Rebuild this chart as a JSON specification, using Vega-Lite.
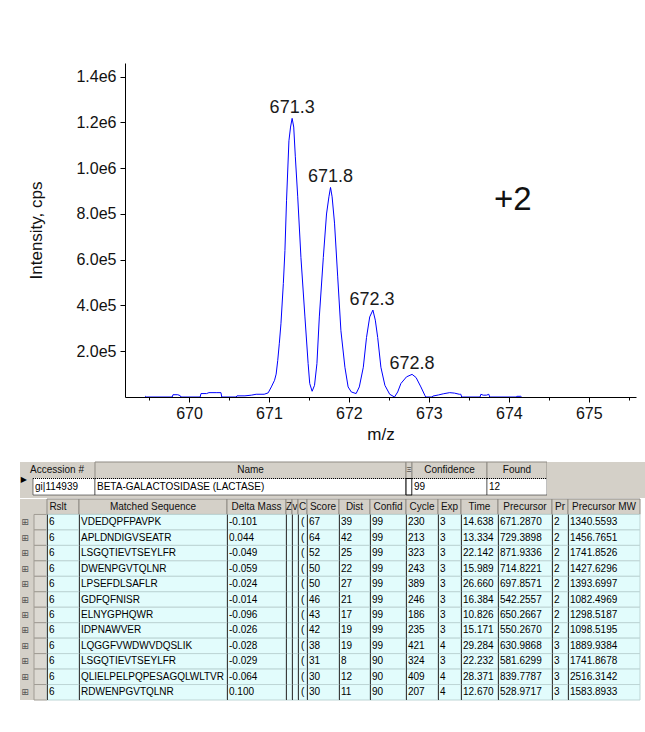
{
"$schema": "https://vega.github.io/schema/vega-lite/v6.json",
"padding": {"left": 20, "top": 63, "right": 0, "bottom": 0},
"background": "#ffffff",
"config": {"view": {"stroke": null}, "font": "Liberation Sans"},
"datasets": {
"spectrum": [
{"mz": 669.45, "I": 0}, {"mz": 669.46, "I": 3000}, {"mz": 669.47, "I": 0},
{"mz": 669.79, "I": 0}, {"mz": 669.80, "I": 10000}, {"mz": 669.86, "I": 10000}, {"mz": 669.89, "I": 6000}, {"mz": 669.90, "I": 0},
{"mz": 670.14, "I": 0}, {"mz": 670.15, "I": 15000}, {"mz": 670.22, "I": 15000}, {"mz": 670.25, "I": 19000}, {"mz": 670.34, "I": 19000}, {"mz": 670.40, "I": 19000}, {"mz": 670.41, "I": 0},
{"mz": 670.59, "I": 0}, {"mz": 670.60, "I": 5000}, {"mz": 670.70, "I": 5000}, {"mz": 670.78, "I": 8000}, {"mz": 670.84, "I": 12000}, {"mz": 670.94, "I": 12000},
{"mz": 670.99, "I": 18000}, {"mz": 671.03, "I": 44000}, {"mz": 671.07, "I": 73000}, {"mz": 671.09, "I": 100000}, {"mz": 671.11, "I": 160000}, {"mz": 671.13, "I": 235000},
{"mz": 671.15, "I": 320000}, {"mz": 671.18, "I": 496000}, {"mz": 671.20, "I": 640000}, {"mz": 671.22, "I": 860000}, {"mz": 671.25, "I": 1120000}, {"mz": 671.27, "I": 1180000},
{"mz": 671.29, "I": 1218000}, {"mz": 671.31, "I": 1180000}, {"mz": 671.33, "I": 1050000}, {"mz": 671.36, "I": 875000}, {"mz": 671.40, "I": 610000}, {"mz": 671.45, "I": 350000},
{"mz": 671.49, "I": 146000}, {"mz": 671.51, "I": 59000}, {"mz": 671.54, "I": 25000}, {"mz": 671.57, "I": 51000}, {"mz": 671.60, "I": 146000}, {"mz": 671.63, "I": 350000},
{"mz": 671.68, "I": 610000}, {"mz": 671.72, "I": 800000}, {"mz": 671.75, "I": 875000}, {"mz": 671.77, "I": 916000}, {"mz": 671.79, "I": 875000}, {"mz": 671.82, "I": 760000},
{"mz": 671.86, "I": 525000}, {"mz": 671.90, "I": 290000}, {"mz": 671.95, "I": 130000}, {"mz": 671.99, "I": 44000}, {"mz": 672.03, "I": 22000}, {"mz": 672.09, "I": 15000},
{"mz": 672.13, "I": 44000}, {"mz": 672.18, "I": 130000}, {"mz": 672.22, "I": 260000}, {"mz": 672.26, "I": 350000}, {"mz": 672.30, "I": 380000}, {"mz": 672.33, "I": 336000},
{"mz": 672.36, "I": 260000}, {"mz": 672.40, "I": 130000}, {"mz": 672.45, "I": 51000}, {"mz": 672.51, "I": 12000}, {"mz": 672.57, "I": 0}, {"mz": 672.61, "I": 22000},
{"mz": 672.65, "I": 59000}, {"mz": 672.72, "I": 88000}, {"mz": 672.79, "I": 99000}, {"mz": 672.84, "I": 85000}, {"mz": 672.90, "I": 44000}, {"mz": 672.95, "I": 7000}, {"mz": 672.96, "I": 0},
{"mz": 673.04, "I": 0}, {"mz": 673.05, "I": 4000}, {"mz": 673.12, "I": 9000}, {"mz": 673.18, "I": 14000}, {"mz": 673.26, "I": 19000}, {"mz": 673.32, "I": 17000}, {"mz": 673.38, "I": 12000}, {"mz": 673.40, "I": 12000}, {"mz": 673.41, "I": 0},
{"mz": 673.64, "I": 0}, {"mz": 673.65, "I": 12000}, {"mz": 673.68, "I": 8000}, {"mz": 673.72, "I": 8000}, {"mz": 673.75, "I": 12000}, {"mz": 673.76, "I": 0},
{"mz": 674.09, "I": 0}, {"mz": 674.10, "I": 3000}, {"mz": 674.15, "I": 3000}, {"mz": 674.16, "I": 0}
],
"peaks": [
{"mz": 671.29, "I": 1218000, "label": "671.3"},
{"mz": 671.77, "I": 916000, "label": "671.8"},
{"mz": 672.29, "I": 380000, "label": "672.3"},
{"mz": 672.79, "I": 99000, "label": "672.8"}
],
"charge": [{"mz": 674.05, "I": 817000, "label": "+2"}],
"prot": [{"i": 1, "sel": "▶", "acc": "gi|114939", "name": "BETA-GALACTOSIDASE (LACTASE)", "conf": "99", "found": "12"}],
"pep": [
{"i": 1, "rslt": "6", "seq": "VDEDQPFPAVPK", "dm": "-0.101", "c": "(", "score": "67", "dist": "39", "confid": "99", "cycle": "230", "exp": "3", "time": "14.638", "prec": "671.2870", "pr": "2", "mw": "1340.5593"},
{"i": 2, "rslt": "6", "seq": "APLDNDIGVSEATR", "dm": "0.044", "c": "(", "score": "64", "dist": "42", "confid": "99", "cycle": "213", "exp": "3", "time": "13.334", "prec": "729.3898", "pr": "2", "mw": "1456.7651"},
{"i": 3, "rslt": "6", "seq": "LSGQTIEVTSEYLFR", "dm": "-0.049", "c": "(", "score": "52", "dist": "25", "confid": "99", "cycle": "323", "exp": "3", "time": "22.142", "prec": "871.9336", "pr": "2", "mw": "1741.8526"},
{"i": 4, "rslt": "6", "seq": "DWENPGVTQLNR", "dm": "-0.059", "c": "(", "score": "50", "dist": "22", "confid": "99", "cycle": "243", "exp": "3", "time": "15.989", "prec": "714.8221", "pr": "2", "mw": "1427.6296"},
{"i": 5, "rslt": "6", "seq": "LPSEFDLSAFLR", "dm": "-0.024", "c": "(", "score": "50", "dist": "27", "confid": "99", "cycle": "389", "exp": "3", "time": "26.660", "prec": "697.8571", "pr": "2", "mw": "1393.6997"},
{"i": 6, "rslt": "6", "seq": "GDFQFNISR", "dm": "-0.014", "c": "(", "score": "46", "dist": "21", "confid": "99", "cycle": "246", "exp": "3", "time": "16.384", "prec": "542.2557", "pr": "2", "mw": "1082.4969"},
{"i": 7, "rslt": "6", "seq": "ELNYGPHQWR", "dm": "-0.096", "c": "(", "score": "43", "dist": "17", "confid": "99", "cycle": "186", "exp": "3", "time": "10.826", "prec": "650.2667", "pr": "2", "mw": "1298.5187"},
{"i": 8, "rslt": "6", "seq": "IDPNAWVER", "dm": "-0.026", "c": "(", "score": "42", "dist": "19", "confid": "99", "cycle": "235", "exp": "3", "time": "15.171", "prec": "550.2670", "pr": "2", "mw": "1098.5195"},
{"i": 9, "rslt": "6", "seq": "LQGGFVWDWVDQSLIK", "dm": "-0.028", "c": "(", "score": "38", "dist": "19", "confid": "99", "cycle": "421", "exp": "4", "time": "29.284", "prec": "630.9868", "pr": "3", "mw": "1889.9384"},
{"i": 10, "rslt": "6", "seq": "LSGQTIEVTSEYLFR", "dm": "-0.029", "c": "(", "score": "31", "dist": "8", "confid": "90", "cycle": "324", "exp": "3", "time": "22.232", "prec": "581.6299", "pr": "3", "mw": "1741.8678"},
{"i": 11, "rslt": "6", "seq": "QLIELPELPQPESAGQLWLTVR", "dm": "-0.064", "c": "(", "score": "30", "dist": "12", "confid": "90", "cycle": "409", "exp": "4", "time": "28.371", "prec": "839.7787", "pr": "3", "mw": "2516.3142"},
{"i": 12, "rslt": "6", "seq": "RDWENPGVTQLNR", "dm": "0.100", "c": "(", "score": "30", "dist": "11", "confid": "90", "cycle": "207", "exp": "4", "time": "12.670", "prec": "528.9717", "pr": "3", "mw": "1583.8933"}
]
},
"spacing": 19,
"vconcat": [
{"spacing": 0, "hconcat": [
  {"width": 7, "height": 10, "data": {"values": []}, "mark": "point"},
  {"width": 511, "height": 334,
   "layer": [
    {"data": {"name": "spectrum"},
     "mark": {"type": "line", "color": "#0000ff", "strokeWidth": 1},
     "encoding": {
      "x": {"field": "mz", "type": "quantitative", "scale": {"domain": [669.2, 675.59], "nice": false, "zero": false},
        "axis": {"title": "m/z", "values": [669.5, 670, 670.5, 671, 671.5, 672, 672.5, 673, 673.5, 674, 674.5, 675, 675.5],
          "labelExpr": "datum.value % 1 === 0 ? format(datum.value, 'd') : ''",
          "tickSize": {"condition": {"test": "datum.value % 1 === 0", "value": 5}, "value": 3},
          "grid": false, "domainColor": "#000000", "tickColor": "#000000", "labelColor": "#111111", "titleColor": "#111111",
          "labelFontSize": 16, "titleFontSize": 17, "titleFontWeight": "normal", "labelPadding": 3, "titlePadding": 5,
          "labelOverlap": false, "labelFlush": false, "zindex": 1}},
      "y": {"field": "I", "type": "quantitative", "scale": {"domain": [0, 1460000], "nice": false},
        "axis": {"title": "Intensity, cps", "values": [200000, 400000, 600000, 800000, 1000000, 1200000, 1400000],
          "labelExpr": "datum.value >= 1000000 ? format(datum.value / 1000000, '.1f') + 'e6' : format(datum.value / 100000, '.1f') + 'e5'",
          "tickSize": 5,
          "grid": false, "domainColor": "#000000", "tickColor": "#000000", "labelColor": "#111111", "titleColor": "#111111",
          "labelFontSize": 16, "titleFontSize": 17, "titleFontWeight": "normal", "labelPadding": 4, "titlePadding": 30,
          "labelOverlap": false, "labelFlush": false, "zindex": 1}}
     }},
    {"data": {"name": "peaks"},
     "mark": {"type": "text", "fontSize": 18, "baseline": "alphabetic", "dy": -5, "color": "#1a1a1a"},
     "encoding": {"x": {"field": "mz", "type": "quantitative"}, "y": {"field": "I", "type": "quantitative"}, "text": {"field": "label"}}},
    {"data": {"name": "charge"},
     "mark": {"type": "text", "fontSize": 33, "baseline": "alphabetic", "color": "#111111"},
     "encoding": {"x": {"field": "mz", "type": "quantitative"}, "y": {"field": "I", "type": "quantitative"}, "text": {"field": "label"}}}
   ]}
]},
{"spacing": 0, "vconcat": [
 {"spacing": 0, "bounds": "flush", "hconcat": [
  {"width": 13, "height": 36, "view": {"fill": "#d4d0c8"},
   "encoding": {"y": {"field": "i", "type": "ordinal", "axis": null, "scale": {"domain": [0, 1], "paddingInner": 0, "paddingOuter": 0.0909, "align": 0}},
                "x": {"datum": 0, "type": "quantitative", "axis": null, "scale": {"domain": [0, 1]}}},
   "layer": [
    {"data": {"name": "prot"}, "layer": [
      {"mark": {"type": "text", "fontSize": 8, "font": "DejaVu Sans", "color": "#000000"}, "encoding": {"x": {"datum": 0.3}, "text": {"field": "sel"}}}
    ]}
   ]},
  {"width": 62, "height": 36, "view": {"fill": "#d4d0c8"},
   "encoding": {"y": {"field": "i", "type": "ordinal", "axis": null, "scale": {"domain": [0, 1], "paddingInner": 0, "paddingOuter": 0.0909, "align": 0}},
                "x": {"datum": 0, "type": "quantitative", "axis": null, "scale": {"domain": [0, 1]}}},
   "layer": [
    {"data": {"values": [{"i": 0, "h": "Accession #"}]}, "layer": [
      {"mark": {"type": "text", "fontSize": 10, "color": "#111111", "dx": -7}, "encoding": {"x": {"datum": 0.5}, "text": {"field": "h"}}}
    ]},
    {"data": {"name": "prot"}, "layer": [
      {"mark": {"type": "rect", "fill": "#ffffff", "stroke": "#000000", "strokeWidth": 1, "strokeDash": [1, 1]}, "encoding": {"x2": {"datum": 1}}},
      {"mark": {"type": "text", "align": "left", "dx": 2, "fontSize": 10, "color": "#000000"}, "encoding": {"text": {"field": "acc"}}}
    ]}
   ]},
  {"width": 311, "height": 36, "view": {"fill": "#d4d0c8"},
   "encoding": {"y": {"field": "i", "type": "ordinal", "axis": null, "scale": {"domain": [0, 1], "paddingInner": 0, "paddingOuter": 0.0909, "align": 0}},
                "x": {"datum": 0, "type": "quantitative", "axis": null, "scale": {"domain": [0, 1]}}},
   "layer": [
    {"data": {"values": [{"i": 0, "h": "Name"}]}, "layer": [
      {"mark": {"type": "rect", "fill": "#d4d0c8", "stroke": "#8f8b84", "strokeWidth": 1}, "encoding": {"x2": {"datum": 1}}},
      {"mark": {"type": "text", "fontSize": 10, "color": "#111111"}, "encoding": {"x": {"datum": 0.5}, "text": {"field": "h"}}}
    ]},
    {"data": {"name": "prot"}, "layer": [
      {"mark": {"type": "rect", "fill": "#ffffff", "stroke": "#000000", "strokeWidth": 1, "strokeDash": [1, 1]}, "encoding": {"x2": {"datum": 1}}},
      {"mark": {"type": "text", "align": "left", "dx": 2, "fontSize": 10, "color": "#000000"}, "encoding": {"text": {"field": "name"}}}
    ]}
   ]},
  {"width": 6, "height": 36, "view": {"fill": "#d4d0c8"},
   "encoding": {"y": {"field": "i", "type": "ordinal", "axis": null, "scale": {"domain": [0, 1], "paddingInner": 0, "paddingOuter": 0.0909, "align": 0}},
                "x": {"datum": 0, "type": "quantitative", "axis": null, "scale": {"domain": [0, 1]}}},
   "layer": [
    {"data": {"values": [{"i": 0, "h": "Ξ"}]}, "layer": [
      {"mark": {"type": "rect", "fill": "#d4d0c8", "stroke": "#8f8b84", "strokeWidth": 1}, "encoding": {"x2": {"datum": 1}}},
      {"mark": {"type": "text", "fontSize": 8, "color": "#111111"}, "encoding": {"x": {"datum": 0.5}, "text": {"field": "h"}}}
    ]},
    {"data": {"name": "prot"}, "layer": [
      {"mark": {"type": "rect", "fill": "#ffffff", "stroke": "#000000", "strokeWidth": 1}, "encoding": {"x2": {"datum": 1}}}
    ]}
   ]},
  {"width": 75, "height": 36, "view": {"fill": "#d4d0c8"},
   "encoding": {"y": {"field": "i", "type": "ordinal", "axis": null, "scale": {"domain": [0, 1], "paddingInner": 0, "paddingOuter": 0.0909, "align": 0}},
                "x": {"datum": 0, "type": "quantitative", "axis": null, "scale": {"domain": [0, 1]}}},
   "layer": [
    {"data": {"values": [{"i": 0, "h": "Confidence"}]}, "layer": [
      {"mark": {"type": "rect", "fill": "#d4d0c8", "stroke": "#8f8b84", "strokeWidth": 1}, "encoding": {"x2": {"datum": 1}}},
      {"mark": {"type": "text", "fontSize": 10, "color": "#111111"}, "encoding": {"x": {"datum": 0.5}, "text": {"field": "h"}}}
    ]},
    {"data": {"name": "prot"}, "layer": [
      {"mark": {"type": "rect", "fill": "#ffffff", "stroke": "#000000", "strokeWidth": 1, "strokeDash": [1, 1]}, "encoding": {"x2": {"datum": 1}}},
      {"mark": {"type": "text", "align": "left", "dx": 2, "fontSize": 10, "color": "#000000"}, "encoding": {"text": {"field": "conf"}}}
    ]}
   ]},
  {"width": 60, "height": 36, "view": {"fill": "#d4d0c8"},
   "encoding": {"y": {"field": "i", "type": "ordinal", "axis": null, "scale": {"domain": [0, 1], "paddingInner": 0, "paddingOuter": 0.0909, "align": 0}},
                "x": {"datum": 0, "type": "quantitative", "axis": null, "scale": {"domain": [0, 1]}}},
   "layer": [
    {"data": {"values": [{"i": 0, "h": "Found"}]}, "layer": [
      {"mark": {"type": "rect", "fill": "#d4d0c8", "stroke": "#8f8b84", "strokeWidth": 1}, "encoding": {"x2": {"datum": 1}}},
      {"mark": {"type": "text", "fontSize": 10, "color": "#111111"}, "encoding": {"x": {"datum": 0.5}, "text": {"field": "h"}}}
    ]},
    {"data": {"name": "prot"}, "layer": [
      {"mark": {"type": "rect", "fill": "#ffffff", "stroke": "#000000", "strokeWidth": 1, "strokeDash": [1, 1]}, "encoding": {"x2": {"datum": 1}}},
      {"mark": {"type": "text", "align": "left", "dx": 2, "fontSize": 10, "color": "#000000"}, "encoding": {"text": {"field": "found"}}}
    ]}
   ]},
  {"width": 98, "height": 36, "view": {"fill": "#d4d0c8"}, "data": {"values": []}, "mark": "point"}
 ]},
 {"spacing": 0, "bounds": "flush", "hconcat": [
  {"width": 14, "height": 201, "view": {"fill": "#d4d0c8"},
   "encoding": {"y": {"field": "i", "type": "ordinal", "axis": null, "scale": {"domain": [0,1,2,3,4,5,6,7,8,9,10,11,12], "paddingInner": 0, "paddingOuter": 0}},
                "x": {"datum": 0, "type": "quantitative", "axis": null, "scale": {"domain": [0, 1]}}},
   "layer": [
    {"data": {"name": "pep"}, "layer": [
      {"mark": {"type": "text", "text": "⊞", "fontSize": 9, "font": "DejaVu Sans", "color": "#555555"}, "encoding": {"x": {"datum": 0.36}}}
    ]}
   ]},
  {"width": 13, "height": 201, "view": {"fill": "#d4d0c8"},
   "encoding": {"y": {"field": "i", "type": "ordinal", "axis": null, "scale": {"domain": [0,1,2,3,4,5,6,7,8,9,10,11,12], "paddingInner": 0, "paddingOuter": 0}},
                "x": {"datum": 0, "type": "quantitative", "axis": null, "scale": {"domain": [0, 1]}}},
   "layer": [
    {"data": {"values": [{"i": 0}]}, "layer": [
      {"mark": {"type": "rect", "fill": "#d4d0c8"}, "encoding": {"x2": {"datum": 1}}}
    ]},
    {"data": {"name": "pep"}, "layer": [
      {"mark": {"type": "rect", "fill": "#dcd9d2", "stroke": "#a09c94", "strokeWidth": 1}, "encoding": {"x2": {"datum": 1}}}
    ]}
   ]},
  {"width": 32, "height": 201,
   "encoding": {"y": {"field": "i", "type": "ordinal", "axis": null, "scale": {"domain": [0,1,2,3,4,5,6,7,8,9,10,11,12], "paddingInner": 0, "paddingOuter": 0}},
                "x": {"datum": 0, "type": "quantitative", "axis": null, "scale": {"domain": [0, 1]}}},
   "layer": [
    {"data": {"values": [{"i": 0, "h": "Rslt"}]}, "layer": [
      {"mark": {"type": "rect", "fill": "#d4d0c8", "stroke": "#8f8b84", "strokeWidth": 1}, "encoding": {"x2": {"datum": 1}}},
      {"mark": {"type": "text", "fontSize": 10, "color": "#111111", "dx": -5}, "encoding": {"x": {"datum": 0.5}, "text": {"field": "h"}}}
    ]},
    {"data": {"name": "pep"}, "layer": [
      {"mark": {"type": "rect", "fill": "#e2fcfc", "stroke": "#bdd5d5", "strokeWidth": 1}, "encoding": {"x2": {"datum": 1}}},
      {"mark": {"type": "rect", "fill": "#3c3c3c", "x2Offset": 1}, "encoding": {"x2": {"datum": 0}}},
      {"mark": {"type": "text", "align": "left", "dx": 2, "fontSize": 10, "color": "#000000"}, "encoding": {"text": {"field": "rslt"}}}
    ]}
   ]},
  {"width": 148, "height": 201,
   "encoding": {"y": {"field": "i", "type": "ordinal", "axis": null, "scale": {"domain": [0,1,2,3,4,5,6,7,8,9,10,11,12], "paddingInner": 0, "paddingOuter": 0}},
                "x": {"datum": 0, "type": "quantitative", "axis": null, "scale": {"domain": [0, 1]}}},
   "layer": [
    {"data": {"values": [{"i": 0, "h": "Matched Sequence"}]}, "layer": [
      {"mark": {"type": "rect", "fill": "#d4d0c8", "stroke": "#8f8b84", "strokeWidth": 1}, "encoding": {"x2": {"datum": 1}}},
      {"mark": {"type": "text", "fontSize": 10, "color": "#111111"}, "encoding": {"x": {"datum": 0.5}, "text": {"field": "h"}}}
    ]},
    {"data": {"name": "pep"}, "layer": [
      {"mark": {"type": "rect", "fill": "#e2fcfc", "stroke": "#bdd5d5", "strokeWidth": 1}, "encoding": {"x2": {"datum": 1}}},
      {"mark": {"type": "rect", "fill": "#3c3c3c", "x2Offset": 1}, "encoding": {"x2": {"datum": 0}}},
      {"mark": {"type": "text", "align": "left", "dx": 2, "fontSize": 10, "color": "#000000"}, "encoding": {"text": {"field": "seq"}}}
    ]}
   ]},
  {"width": 59, "height": 201,
   "encoding": {"y": {"field": "i", "type": "ordinal", "axis": null, "scale": {"domain": [0,1,2,3,4,5,6,7,8,9,10,11,12], "paddingInner": 0, "paddingOuter": 0}},
                "x": {"datum": 0, "type": "quantitative", "axis": null, "scale": {"domain": [0, 1]}}},
   "layer": [
    {"data": {"values": [{"i": 0, "h": "Delta Mass"}]}, "layer": [
      {"mark": {"type": "rect", "fill": "#d4d0c8", "stroke": "#8f8b84", "strokeWidth": 1}, "encoding": {"x2": {"datum": 1}}},
      {"mark": {"type": "text", "fontSize": 10, "color": "#111111"}, "encoding": {"x": {"datum": 0.5}, "text": {"field": "h"}}}
    ]},
    {"data": {"name": "pep"}, "layer": [
      {"mark": {"type": "rect", "fill": "#e2fcfc", "stroke": "#bdd5d5", "strokeWidth": 1}, "encoding": {"x2": {"datum": 1}}},
      {"mark": {"type": "rect", "fill": "#3c3c3c", "x2Offset": 1}, "encoding": {"x2": {"datum": 0}}},
      {"mark": {"type": "text", "align": "left", "dx": 2, "fontSize": 10, "color": "#000000"}, "encoding": {"text": {"field": "dm"}}}
    ]}
   ]},
  {"width": 6, "height": 201,
   "encoding": {"y": {"field": "i", "type": "ordinal", "axis": null, "scale": {"domain": [0,1,2,3,4,5,6,7,8,9,10,11,12], "paddingInner": 0, "paddingOuter": 0}},
                "x": {"datum": 0, "type": "quantitative", "axis": null, "scale": {"domain": [0, 1]}}},
   "layer": [
    {"data": {"values": [{"i": 0, "h": "Z"}]}, "layer": [
      {"mark": {"type": "rect", "fill": "#d4d0c8", "stroke": "#8f8b84", "strokeWidth": 1}, "encoding": {"x2": {"datum": 1}}},
      {"mark": {"type": "text", "fontSize": 10, "color": "#111111"}, "encoding": {"x": {"datum": 0.5}, "text": {"field": "h"}}}
    ]},
    {"data": {"name": "pep"}, "layer": [
      {"mark": {"type": "rect", "fill": "#e2fcfc", "stroke": "#bdd5d5", "strokeWidth": 1}, "encoding": {"x2": {"datum": 1}}},
      {"mark": {"type": "rect", "fill": "#3c3c3c", "x2Offset": 1}, "encoding": {"x2": {"datum": 0}}}
    ]}
   ]},
  {"width": 6, "height": 201,
   "encoding": {"y": {"field": "i", "type": "ordinal", "axis": null, "scale": {"domain": [0,1,2,3,4,5,6,7,8,9,10,11,12], "paddingInner": 0, "paddingOuter": 0}},
                "x": {"datum": 0, "type": "quantitative", "axis": null, "scale": {"domain": [0, 1]}}},
   "layer": [
    {"data": {"values": [{"i": 0, "h": "v"}]}, "layer": [
      {"mark": {"type": "rect", "fill": "#d4d0c8", "stroke": "#8f8b84", "strokeWidth": 1}, "encoding": {"x2": {"datum": 1}}},
      {"mark": {"type": "text", "fontSize": 10, "color": "#111111"}, "encoding": {"x": {"datum": 0.5}, "text": {"field": "h"}}}
    ]},
    {"data": {"name": "pep"}, "layer": [
      {"mark": {"type": "rect", "fill": "#e2fcfc", "stroke": "#bdd5d5", "strokeWidth": 1}, "encoding": {"x2": {"datum": 1}}},
      {"mark": {"type": "rect", "fill": "#3c3c3c", "x2Offset": 1}, "encoding": {"x2": {"datum": 0}}}
    ]}
   ]},
  {"width": 9, "height": 201,
   "encoding": {"y": {"field": "i", "type": "ordinal", "axis": null, "scale": {"domain": [0,1,2,3,4,5,6,7,8,9,10,11,12], "paddingInner": 0, "paddingOuter": 0}},
                "x": {"datum": 0, "type": "quantitative", "axis": null, "scale": {"domain": [0, 1]}}},
   "layer": [
    {"data": {"values": [{"i": 0, "h": "C"}]}, "layer": [
      {"mark": {"type": "rect", "fill": "#d4d0c8", "stroke": "#8f8b84", "strokeWidth": 1}, "encoding": {"x2": {"datum": 1}}},
      {"mark": {"type": "text", "fontSize": 10, "color": "#111111"}, "encoding": {"x": {"datum": 0.5}, "text": {"field": "h"}}}
    ]},
    {"data": {"name": "pep"}, "layer": [
      {"mark": {"type": "rect", "fill": "#e2fcfc", "stroke": "#bdd5d5", "strokeWidth": 1}, "encoding": {"x2": {"datum": 1}}},
      {"mark": {"type": "rect", "fill": "#3c3c3c", "x2Offset": 1}, "encoding": {"x2": {"datum": 0}}},
      {"mark": {"type": "text", "align": "left", "dx": 3, "fontSize": 10, "color": "#000000"}, "encoding": {"text": {"field": "c"}}}
    ]}
   ]},
  {"width": 32, "height": 201,
   "encoding": {"y": {"field": "i", "type": "ordinal", "axis": null, "scale": {"domain": [0,1,2,3,4,5,6,7,8,9,10,11,12], "paddingInner": 0, "paddingOuter": 0}},
                "x": {"datum": 0, "type": "quantitative", "axis": null, "scale": {"domain": [0, 1]}}},
   "layer": [
    {"data": {"values": [{"i": 0, "h": "Score"}]}, "layer": [
      {"mark": {"type": "rect", "fill": "#d4d0c8", "stroke": "#8f8b84", "strokeWidth": 1}, "encoding": {"x2": {"datum": 1}}},
      {"mark": {"type": "text", "fontSize": 10, "color": "#111111"}, "encoding": {"x": {"datum": 0.5}, "text": {"field": "h"}}}
    ]},
    {"data": {"name": "pep"}, "layer": [
      {"mark": {"type": "rect", "fill": "#e2fcfc", "stroke": "#bdd5d5", "strokeWidth": 1}, "encoding": {"x2": {"datum": 1}}},
      {"mark": {"type": "rect", "fill": "#3c3c3c", "x2Offset": 1}, "encoding": {"x2": {"datum": 0}}},
      {"mark": {"type": "text", "align": "left", "dx": 2, "fontSize": 10, "color": "#000000"}, "encoding": {"text": {"field": "score"}}}
    ]}
   ]},
  {"width": 31, "height": 201,
   "encoding": {"y": {"field": "i", "type": "ordinal", "axis": null, "scale": {"domain": [0,1,2,3,4,5,6,7,8,9,10,11,12], "paddingInner": 0, "paddingOuter": 0}},
                "x": {"datum": 0, "type": "quantitative", "axis": null, "scale": {"domain": [0, 1]}}},
   "layer": [
    {"data": {"values": [{"i": 0, "h": "Dist"}]}, "layer": [
      {"mark": {"type": "rect", "fill": "#d4d0c8", "stroke": "#8f8b84", "strokeWidth": 1}, "encoding": {"x2": {"datum": 1}}},
      {"mark": {"type": "text", "fontSize": 10, "color": "#111111"}, "encoding": {"x": {"datum": 0.5}, "text": {"field": "h"}}}
    ]},
    {"data": {"name": "pep"}, "layer": [
      {"mark": {"type": "rect", "fill": "#e2fcfc", "stroke": "#bdd5d5", "strokeWidth": 1}, "encoding": {"x2": {"datum": 1}}},
      {"mark": {"type": "rect", "fill": "#3c3c3c", "x2Offset": 1}, "encoding": {"x2": {"datum": 0}}},
      {"mark": {"type": "text", "align": "left", "dx": 2, "fontSize": 10, "color": "#000000"}, "encoding": {"text": {"field": "dist"}}}
    ]}
   ]},
  {"width": 36, "height": 201,
   "encoding": {"y": {"field": "i", "type": "ordinal", "axis": null, "scale": {"domain": [0,1,2,3,4,5,6,7,8,9,10,11,12], "paddingInner": 0, "paddingOuter": 0}},
                "x": {"datum": 0, "type": "quantitative", "axis": null, "scale": {"domain": [0, 1]}}},
   "layer": [
    {"data": {"values": [{"i": 0, "h": "Confid"}]}, "layer": [
      {"mark": {"type": "rect", "fill": "#d4d0c8", "stroke": "#8f8b84", "strokeWidth": 1}, "encoding": {"x2": {"datum": 1}}},
      {"mark": {"type": "text", "fontSize": 10, "color": "#111111"}, "encoding": {"x": {"datum": 0.5}, "text": {"field": "h"}}}
    ]},
    {"data": {"name": "pep"}, "layer": [
      {"mark": {"type": "rect", "fill": "#e2fcfc", "stroke": "#bdd5d5", "strokeWidth": 1}, "encoding": {"x2": {"datum": 1}}},
      {"mark": {"type": "rect", "fill": "#3c3c3c", "x2Offset": 1}, "encoding": {"x2": {"datum": 0}}},
      {"mark": {"type": "text", "align": "left", "dx": 2, "fontSize": 10, "color": "#000000"}, "encoding": {"text": {"field": "confid"}}}
    ]}
   ]},
  {"width": 32, "height": 201,
   "encoding": {"y": {"field": "i", "type": "ordinal", "axis": null, "scale": {"domain": [0,1,2,3,4,5,6,7,8,9,10,11,12], "paddingInner": 0, "paddingOuter": 0}},
                "x": {"datum": 0, "type": "quantitative", "axis": null, "scale": {"domain": [0, 1]}}},
   "layer": [
    {"data": {"values": [{"i": 0, "h": "Cycle"}]}, "layer": [
      {"mark": {"type": "rect", "fill": "#d4d0c8", "stroke": "#8f8b84", "strokeWidth": 1}, "encoding": {"x2": {"datum": 1}}},
      {"mark": {"type": "text", "fontSize": 10, "color": "#111111"}, "encoding": {"x": {"datum": 0.5}, "text": {"field": "h"}}}
    ]},
    {"data": {"name": "pep"}, "layer": [
      {"mark": {"type": "rect", "fill": "#e2fcfc", "stroke": "#bdd5d5", "strokeWidth": 1}, "encoding": {"x2": {"datum": 1}}},
      {"mark": {"type": "rect", "fill": "#3c3c3c", "x2Offset": 1}, "encoding": {"x2": {"datum": 0}}},
      {"mark": {"type": "text", "align": "left", "dx": 2, "fontSize": 10, "color": "#000000"}, "encoding": {"text": {"field": "cycle"}}}
    ]}
   ]},
  {"width": 23, "height": 201,
   "encoding": {"y": {"field": "i", "type": "ordinal", "axis": null, "scale": {"domain": [0,1,2,3,4,5,6,7,8,9,10,11,12], "paddingInner": 0, "paddingOuter": 0}},
                "x": {"datum": 0, "type": "quantitative", "axis": null, "scale": {"domain": [0, 1]}}},
   "layer": [
    {"data": {"values": [{"i": 0, "h": "Exp"}]}, "layer": [
      {"mark": {"type": "rect", "fill": "#d4d0c8", "stroke": "#8f8b84", "strokeWidth": 1}, "encoding": {"x2": {"datum": 1}}},
      {"mark": {"type": "text", "fontSize": 10, "color": "#111111"}, "encoding": {"x": {"datum": 0.5}, "text": {"field": "h"}}}
    ]},
    {"data": {"name": "pep"}, "layer": [
      {"mark": {"type": "rect", "fill": "#e2fcfc", "stroke": "#bdd5d5", "strokeWidth": 1}, "encoding": {"x2": {"datum": 1}}},
      {"mark": {"type": "rect", "fill": "#3c3c3c", "x2Offset": 1}, "encoding": {"x2": {"datum": 0}}},
      {"mark": {"type": "text", "align": "left", "dx": 2, "fontSize": 10, "color": "#000000"}, "encoding": {"text": {"field": "exp"}}}
    ]}
   ]},
  {"width": 37, "height": 201,
   "encoding": {"y": {"field": "i", "type": "ordinal", "axis": null, "scale": {"domain": [0,1,2,3,4,5,6,7,8,9,10,11,12], "paddingInner": 0, "paddingOuter": 0}},
                "x": {"datum": 0, "type": "quantitative", "axis": null, "scale": {"domain": [0, 1]}}},
   "layer": [
    {"data": {"values": [{"i": 0, "h": "Time"}]}, "layer": [
      {"mark": {"type": "rect", "fill": "#d4d0c8", "stroke": "#8f8b84", "strokeWidth": 1}, "encoding": {"x2": {"datum": 1}}},
      {"mark": {"type": "text", "fontSize": 10, "color": "#111111"}, "encoding": {"x": {"datum": 0.5}, "text": {"field": "h"}}}
    ]},
    {"data": {"name": "pep"}, "layer": [
      {"mark": {"type": "rect", "fill": "#e2fcfc", "stroke": "#bdd5d5", "strokeWidth": 1}, "encoding": {"x2": {"datum": 1}}},
      {"mark": {"type": "rect", "fill": "#3c3c3c", "x2Offset": 1}, "encoding": {"x2": {"datum": 0}}},
      {"mark": {"type": "text", "align": "left", "dx": 2, "fontSize": 10, "color": "#000000"}, "encoding": {"text": {"field": "time"}}}
    ]}
   ]},
  {"width": 54, "height": 201,
   "encoding": {"y": {"field": "i", "type": "ordinal", "axis": null, "scale": {"domain": [0,1,2,3,4,5,6,7,8,9,10,11,12], "paddingInner": 0, "paddingOuter": 0}},
                "x": {"datum": 0, "type": "quantitative", "axis": null, "scale": {"domain": [0, 1]}}},
   "layer": [
    {"data": {"values": [{"i": 0, "h": "Precursor"}]}, "layer": [
      {"mark": {"type": "rect", "fill": "#d4d0c8", "stroke": "#8f8b84", "strokeWidth": 1}, "encoding": {"x2": {"datum": 1}}},
      {"mark": {"type": "text", "fontSize": 10, "color": "#111111"}, "encoding": {"x": {"datum": 0.5}, "text": {"field": "h"}}}
    ]},
    {"data": {"name": "pep"}, "layer": [
      {"mark": {"type": "rect", "fill": "#e2fcfc", "stroke": "#bdd5d5", "strokeWidth": 1}, "encoding": {"x2": {"datum": 1}}},
      {"mark": {"type": "rect", "fill": "#3c3c3c", "x2Offset": 1}, "encoding": {"x2": {"datum": 0}}},
      {"mark": {"type": "text", "align": "left", "dx": 2, "fontSize": 10, "color": "#000000"}, "encoding": {"text": {"field": "prec"}}}
    ]}
   ]},
  {"width": 16, "height": 201,
   "encoding": {"y": {"field": "i", "type": "ordinal", "axis": null, "scale": {"domain": [0,1,2,3,4,5,6,7,8,9,10,11,12], "paddingInner": 0, "paddingOuter": 0}},
                "x": {"datum": 0, "type": "quantitative", "axis": null, "scale": {"domain": [0, 1]}}},
   "layer": [
    {"data": {"values": [{"i": 0, "h": "Pr"}]}, "layer": [
      {"mark": {"type": "rect", "fill": "#d4d0c8", "stroke": "#8f8b84", "strokeWidth": 1}, "encoding": {"x2": {"datum": 1}}},
      {"mark": {"type": "text", "fontSize": 10, "color": "#111111"}, "encoding": {"x": {"datum": 0.5}, "text": {"field": "h"}}}
    ]},
    {"data": {"name": "pep"}, "layer": [
      {"mark": {"type": "rect", "fill": "#e2fcfc", "stroke": "#bdd5d5", "strokeWidth": 1}, "encoding": {"x2": {"datum": 1}}},
      {"mark": {"type": "rect", "fill": "#3c3c3c", "x2Offset": 1}, "encoding": {"x2": {"datum": 0}}},
      {"mark": {"type": "text", "align": "left", "dx": 2, "fontSize": 10, "color": "#000000"}, "encoding": {"text": {"field": "pr"}}}
    ]}
   ]},
  {"width": 72, "height": 201,
   "encoding": {"y": {"field": "i", "type": "ordinal", "axis": null, "scale": {"domain": [0,1,2,3,4,5,6,7,8,9,10,11,12], "paddingInner": 0, "paddingOuter": 0}},
                "x": {"datum": 0, "type": "quantitative", "axis": null, "scale": {"domain": [0, 1]}}},
   "layer": [
    {"data": {"values": [{"i": 0, "h": "Precursor MW"}]}, "layer": [
      {"mark": {"type": "rect", "fill": "#d4d0c8", "stroke": "#8f8b84", "strokeWidth": 1}, "encoding": {"x2": {"datum": 1}}},
      {"mark": {"type": "text", "fontSize": 10, "color": "#111111"}, "encoding": {"x": {"datum": 0.5}, "text": {"field": "h"}}}
    ]},
    {"data": {"name": "pep"}, "layer": [
      {"mark": {"type": "rect", "fill": "#e2fcfc", "stroke": "#bdd5d5", "strokeWidth": 1}, "encoding": {"x2": {"datum": 1}}},
      {"mark": {"type": "rect", "fill": "#3c3c3c", "x2Offset": 1}, "encoding": {"x2": {"datum": 0}}},
      {"mark": {"type": "text", "align": "left", "dx": 2, "fontSize": 10, "color": "#000000"}, "encoding": {"text": {"field": "mw"}}}
    ]}
   ]}
 ]}
]}
]
}
